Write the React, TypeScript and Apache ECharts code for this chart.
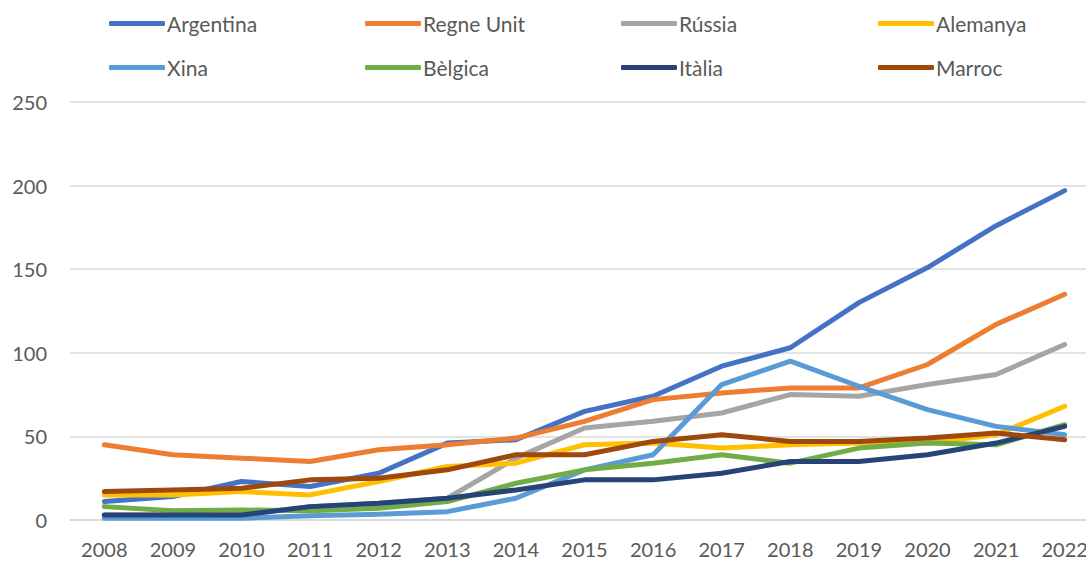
import React, { useEffect, useRef } from "react";
import * as echarts from "echarts";

const years = ["2008","2009","2010","2011","2012","2013","2014","2015","2016","2017","2018","2019","2020","2021","2022"];
const seriesNames = ["Argentina","Regne Unit","Rússia","Alemanya","Xina","Bèlgica","Itàlia","Marroc"];
const colors = ["#4472C4","#ED7D31","#A5A5A5","#FFC000","#5B9BD5","#70AD47","#264478","#9E480E"];

const argentina = [11, 14, 23, 20, 28, 46, 48, 65, 74, 92, 103, 130, 151, 176, 197];
const regneUnit = [45, 39, 37, 35, 42, 45, 49, 59, 72, 76, 79, 79, 93, 117, 135];
const russia = [3, 3, 3, 8, 10, 13, 37, 55, 59, 64, 75, 74, 81, 87, 105];
const alemanya = [15, 15, 17, 15, 23, 32, 34, 45, 46, 43, 45, 46, 46, 51, 68];
const xina = [1, 1, 1, 2.5, 3.5, 5, 13, 30, 39, 81, 95, 80, 66, 56, 51];
const belgica = [8, 5.5, 6, 5.5, 7, 11, 22, 30, 34, 39, 34, 43, 46, 45, 57];
const italia = [3, 3, 3, 8, 10, 13, 18, 24, 24, 28, 35, 35, 39, 46, 56];
const marroc = [17, 18, 19, 24, 25, 30, 39, 39, 47, 51, 47, 47, 49, 52, 48];

const allData = [argentina, regneUnit, russia, alemanya, xina, belgica, italia, marroc];

const yTicks = { min: 0, max: 250, interval: 50 };

const FONT = "Lato";
const TEXT = "#595959";

export default function App() {
  const ref = useRef<HTMLDivElement>(null);
  useEffect(() => {
    if (!ref.current) return;
    const chart = echarts.init(ref.current, undefined, { renderer: "svg" });
    const colLeft = [109, 365, 621, 878];
    const rowTop = [13, 57];
    const legends = seriesNames.map((name, i) => ({
      data: [name],
      left: colLeft[i % 4],
      top: rowTop[Math.floor(i / 4)],
      orient: "horizontal",
      icon: "roundRect",
      itemWidth: 56,
      itemHeight: 5,
      padding: 0,
      selectedMode: false,
      textStyle: { color: TEXT, fontFamily: FONT, fontSize: 21, padding: [0, 0, 0, -3] },
    }));
    chart.setOption({
      animation: false,
      color: colors,
      legend: legends,
      grid: { left: 70, top: 102, width: 1029, height: 418, containLabel: false },
      xAxis: {
        type: "category",
        data: years,
        boundaryGap: true,
        axisLine: { show: true, lineStyle: { color: "#D9D9D9", width: 1.5 } },
        axisTick: { show: false },
        axisLabel: { color: TEXT, fontFamily: FONT, fontSize: 20, margin: 19, interval: 0 },
      },
      yAxis: {
        type: "value",
        min: yTicks.min,
        max: yTicks.max,
        interval: yTicks.interval,
        axisLine: { show: false },
        axisTick: { show: false },
        splitLine: { lineStyle: { color: "#D9D9D9", width: 1.5 } },
        axisLabel: { color: TEXT, fontFamily: FONT, fontSize: 20, margin: 23 },
      },
      series: seriesNames.map((name, i) => ({
        name,
        type: "line",
        data: allData[i],
        showSymbol: false,
        symbol: "none",
        lineStyle: { width: 5, color: colors[i], cap: "round", join: "round" },
        itemStyle: { color: colors[i] },
      })),
    });
    return () => chart.dispose();
  }, []);
  return (
    <div style={{ position: "absolute", left: 0, top: 0, width: 1086, height: 561, overflow: "hidden", background: "#fff" }}>
      <div ref={ref} style={{ position: "absolute", left: 0, top: 0, width: 1120, height: 561 }} />
    </div>
  );
}
